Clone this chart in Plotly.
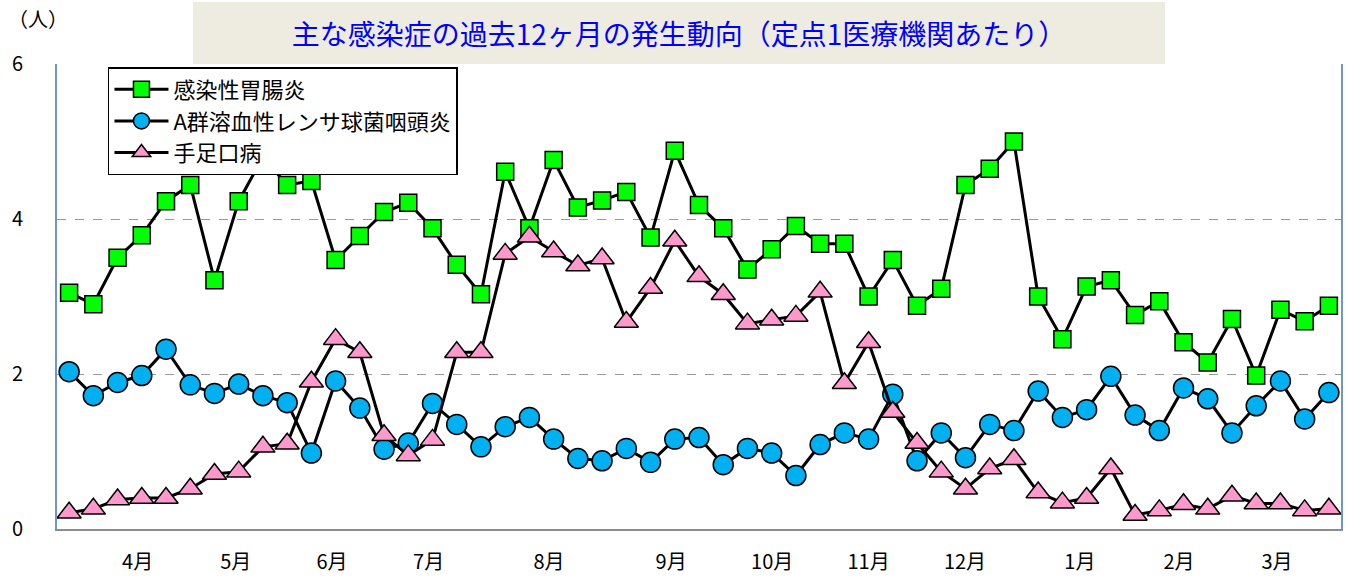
import plotly.graph_objects as go

weeks = list(range(1, 54))

gastro = [3.05, 2.90, 3.50, 3.79, 4.23, 4.44, 3.21, 4.23, 4.80, 4.44,
          4.49, 3.47, 3.78, 4.09, 4.21, 3.88, 3.41, 3.03, 4.61, 3.88,
          4.76, 4.15, 4.24, 4.35, 3.76, 4.88, 4.18, 3.88, 3.35, 3.61,
          3.91, 3.68, 3.68, 3.00, 3.47, 2.88, 3.10, 4.44, 4.65, 5.00,
          3.00, 2.45, 3.13, 3.21, 2.76, 2.94, 2.41, 2.15, 2.71, 1.98,
          2.83, 2.68, 2.88]

strep = [2.03, 1.72, 1.89, 1.98, 2.32, 1.86, 1.75, 1.87, 1.72, 1.63,
         0.98, 1.91, 1.56, 1.03, 1.11, 1.62, 1.35, 1.06, 1.32, 1.44,
         1.16, 0.91, 0.88, 1.04, 0.86, 1.16, 1.18, 0.83, 1.04, 0.98,
         0.69, 1.09, 1.24, 1.16, 1.74, 0.88, 1.24, 0.92, 1.35, 1.27,
         1.78, 1.44, 1.54, 1.97, 1.47, 1.27, 1.82, 1.68, 1.24, 1.59,
         1.91, 1.42, 1.76]

hfmd = [0.21, 0.26, 0.38, 0.40, 0.40, 0.52, 0.71, 0.74, 1.06, 1.10,
        1.90, 2.45, 2.28, 1.21, 0.95, 1.15, 2.28, 2.28, 3.55, 3.77,
        3.58, 3.40, 3.49, 2.67, 3.11, 3.72, 3.26, 3.03, 2.65, 2.70,
        2.75, 3.06, 1.88, 2.41, 1.51, 1.11, 0.74, 0.52, 0.78, 0.90,
        0.47, 0.34, 0.40, 0.78, 0.18, 0.24, 0.32, 0.26, 0.43, 0.33,
        0.33, 0.24, 0.26]

month_labels = ["4月", "5月", "6月", "7月", "8月", "9月", "10月", "11月", "12月", "1月", "2月", "3月"]
month_pos = [3.83, 7.88, 11.85, 15.84, 20.81, 25.85, 30.02, 34.0, 37.98, 42.72, 46.81, 50.86]

y_ticks = [0, 2, 4, 6]

series_names = ["感染性胃腸炎", "A群溶血性レンサ球菌咽頭炎", "手足口病"]

FONT = "Noto Sans CJK JP, Noto Sans, sans-serif"

fig = go.Figure()

fig.add_trace(go.Scatter(
    x=weeks, y=gastro, name=series_names[0], mode="lines+markers",
    line=dict(color="black", width=3),
    marker=dict(symbol="square", size=17, color="#00FF00",
                line=dict(color="black", width=1.5)),
    legendgroup="g1",
))
fig.add_trace(go.Scatter(
    x=weeks, y=strep, name=series_names[1], mode="lines+markers",
    line=dict(color="black", width=3),
    marker=dict(symbol="circle", size=20, color="#00B0F0",
                line=dict(color="black", width=1.5)),
    legendgroup="g2",
))
fig.add_trace(go.Scatter(
    x=weeks, y=hfmd, name=series_names[2], mode="lines+markers",
    line=dict(color="black", width=3),
    marker=dict(symbol="triangle-up", size=21, color="#FF99CC",
                line=dict(color="black", width=1.5)),
    legendgroup="g3",
))

fig.update_layout(
    template="none",
    width=1346, height=578,
    margin=dict(l=57, r=5, t=64, b=49, autoexpand=False),
    paper_bgcolor="white",
    plot_bgcolor="white",
    font=dict(family=FONT, color="black", size=18),
    showlegend=True,
    legend=dict(
        x=0.0397, y=0.9935, xanchor="left", yanchor="top",
        bgcolor="white", bordercolor="black", borderwidth=1.5,
        font=dict(family=FONT, size=22, color="black"),
        itemwidth=54, tracegroupgap=0,
    ),
    xaxis=dict(
        range=[0.5, 53.5], automargin=False,
        tickmode="array", tickvals=month_pos, ticktext=month_labels,
        showgrid=False, zeroline=False,
        showline=True, linecolor="#8C8C8C", linewidth=2,
        ticks="", ticklabelstandoff=14,
        tickfont=dict(family=FONT, size=20, color="black"),
    ),
    yaxis=dict(
        range=[0, 6], automargin=False,
        tickmode="array", tickvals=y_ticks,
        showgrid=True, gridcolor="#999999", griddash="dash", gridwidth=1.3,
        zeroline=False,
        showline=True, linecolor="#6F95C9", linewidth=2, mirror=True,
        ticks="", ticklabelstandoff=28,
        tickfont=dict(family=FONT, size=20, color="black"),
    ),
    annotations=[
        dict(
            text="主な感染症の過去12ヶ月の発生動向（定点1医療機関あたり）",
            xref="paper", yref="paper", x=0.4848, y=1.0667,
            xanchor="center", yanchor="middle",
            showarrow=False, bgcolor="#EEECE1", width=972, height=62,
            borderpad=0, borderwidth=0,
            font=dict(family=FONT, size=28, color="#0000FF"),
        ),
        dict(
            text="（人）", xref="paper", yref="paper",
            x=(6 - 57) / 1284, y=(529 - 18) / 465,
            xanchor="left", yanchor="middle", showarrow=False,
            font=dict(family=FONT, size=20, color="black"),
        ),
    ],
)

fig.write_html(
    "out.html",
    config={"displayModeBar": False},
    post_script="document.body.style.margin='0';document.body.style.overflow='hidden';",
)
